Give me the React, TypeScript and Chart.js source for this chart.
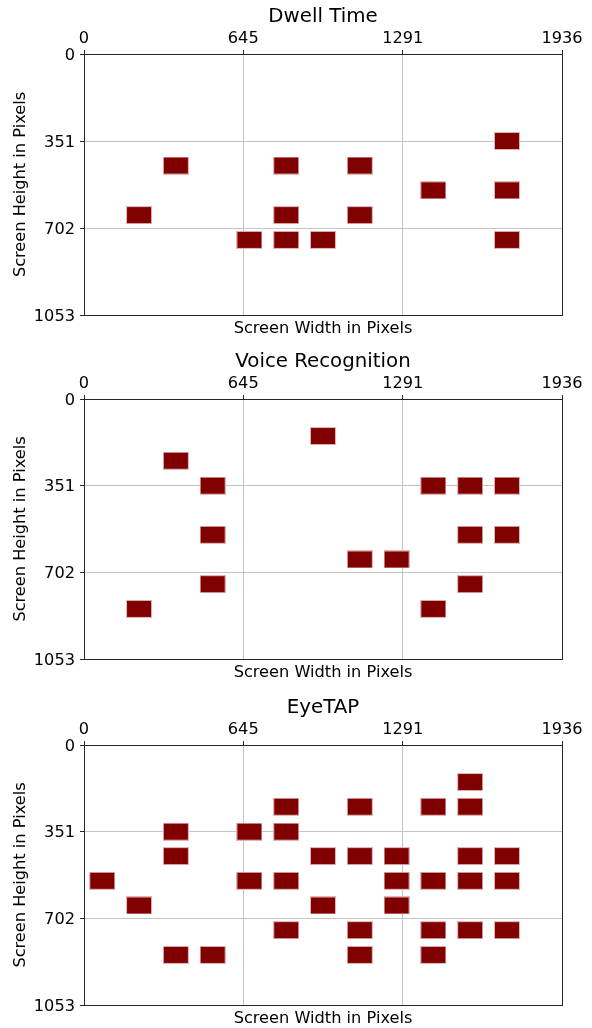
import React, { useEffect, useRef } from "react";
import { Chart, registerables } from "chart.js";

Chart.register(...registerables);

// ---- data ----
const xTickValues = [0, 645, 1291, 1936];
const yTickValues = [0, 351, 702, 1053];
const panelTitles = ["Dwell Time", "Voice Recognition", "EyeTAP"];
const xAxisLabel = "Screen Width in Pixels";
const yAxisLabel = "Screen Height in Pixels";

const dwellX = [1713, 372, 819, 1117, 1415, 1713, 223, 819, 1117, 670, 819, 968, 1713];
const dwellY = [351, 450, 450, 450, 550, 550, 650, 650, 650, 750, 750, 750, 750];

const voiceX = [968, 372, 521, 1415, 1564, 1713, 521, 1564, 1713, 1117, 1266, 521, 1564, 223, 1415];
const voiceY = [150, 250, 351, 351, 351, 351, 550, 550, 550, 650, 650, 750, 750, 850, 850];

const eyetapX = [1564, 819, 1117, 1415, 1564, 372, 670, 819, 372, 968, 1117, 1266, 1564, 1713, 74, 670, 819, 1266, 1415, 1564, 1713, 223, 968, 1266, 819, 1117, 1415, 1564, 1713, 372, 521, 1117, 1415];
const eyetapY = [150, 250, 250, 250, 250, 351, 351, 351, 450, 450, 450, 450, 450, 450, 550, 550, 550, 550, 550, 550, 550, 650, 650, 650, 750, 750, 750, 750, 750, 850, 850, 850, 850];

const panelSeries = [
  { xs: dwellX, ys: dwellY },
  { xs: voiceX, ys: voiceY },
  { xs: eyetapX, ys: eyetapY },
];

// ---- layout / style ----
const FAMILY = "'DejaVu Sans', sans-serif";
const TICK_SIZE = 16.2;
const TITLE_SIZE = 19.8;
const layouts = [
  { top: 0, h: 345, axisTop: 54, plotH: 261 },
  { top: 345, h: 345, axisTop: 54, plotH: 260 },
  { top: 690, h: 338, axisTop: 55, plotH: 260 },
];

let markerCanvas: HTMLCanvasElement | null = null;
function getMarker() {
  if (markerCanvas) return markerCanvas;
  const c = document.createElement("canvas");
  c.width = 26;
  c.height = 18;
  const g = c.getContext("2d")!;
  g.fillStyle = "#e2b5b5";
  g.fillRect(0, 0, 26, 18);
  g.fillStyle = "#800000";
  g.fillRect(1, 1, 24, 16);
  markerCanvas = c;
  return c;
}

const labelsPlugin = {
  id: "panelLabels",
  afterDraw(chart: any) {
    const { ctx, chartArea: a } = chart;
    const title = chart.options.plugins.panelLabels.title;
    ctx.save();
    const l = Math.round(a.left), r = Math.round(a.right), t = Math.round(a.top), b = Math.round(a.bottom);
    ctx.strokeStyle = "#262626";
    ctx.lineWidth = 1;
    ctx.strokeRect(l + 0.5, t + 0.5, r - l, b - t);
    ctx.fillStyle = "#000";
    ctx.font = `${TITLE_SIZE}px ${FAMILY}`;
    ctx.textAlign = "center";
    ctx.textBaseline = "alphabetic";
    ctx.fillText(title, (a.left + a.right) / 2, a.top - 32);
    ctx.font = `${TICK_SIZE}px ${FAMILY}`;
    ctx.fillText(xAxisLabel, (a.left + a.right) / 2, a.bottom + 18);
    ctx.translate(25, (a.top + a.bottom) / 2);
    ctx.rotate(-Math.PI / 2);
    ctx.fillText(yAxisLabel, 0, 0);
    ctx.restore();
  },
};

function buildConfig(i: number): any {
  const s = panelSeries[i];
  const L = layouts[i];
  const tickFont = { family: FAMILY, size: TICK_SIZE };
  const grid = { color: "#c4c4c4", lineWidth: 1, tickColor: "#262626", tickLength: 4, tickWidth: 1 };
  return {
    type: "scatter",
    data: {
      datasets: [
        {
          data: s.xs.map((x, k) => ({ x, y: s.ys[k] })),
          pointStyle: getMarker(),
          pointRadius: 4,
          pointHoverRadius: 4,
          clip: false,
        },
      ],
    },
    options: {
      responsive: false,
      animation: false,
      events: [],
      devicePixelRatio: 1,
      layout: { padding: { left: 0, top: 0, right: 30, bottom: L.h - L.axisTop - L.plotH } },
      plugins: {
        legend: { display: false },
        tooltip: { enabled: false },
        title: { display: false },
        panelLabels: { title: panelTitles[i] },
      },
      scales: {
        x: {
          type: "linear",
          position: "top",
          min: 0,
          max: 1936,
          afterBuildTicks: (sc: any) => {
            sc.ticks = xTickValues.map((v) => ({ value: v }));
          },
          afterFit: (sc: any) => {
            sc.height = L.axisTop;
          },
          ticks: { callback: (v: any) => String(v), color: "#000", font: tickFont, padding: 1, autoSkip: false, maxRotation: 0 },
          grid,
          border: { display: false },
        },
        y: {
          type: "linear",
          position: "left",
          reverse: true,
          min: 0,
          max: 1053,
          afterBuildTicks: (sc: any) => {
            sc.ticks = yTickValues.map((v) => ({ value: v }));
          },
          afterFit: (sc: any) => {
            sc.width = 84;
          },
          ticks: { callback: (v: any) => String(v), color: "#000", font: tickFont, padding: 5, autoSkip: false, labelOffset: 1.5 },
          grid,
          border: { display: false },
        },
      },
    },
    plugins: [labelsPlugin],
  };
}

function Panel({ index }: { index: number }) {
  const ref = useRef<HTMLCanvasElement>(null);
  const L = layouts[index];
  useEffect(() => {
    const chart = new Chart(ref.current as HTMLCanvasElement, buildConfig(index));
    return () => chart.destroy();
  }, [index]);
  return (
    <canvas
      ref={ref}
      width={592}
      height={L.h}
      style={{ position: "absolute", left: 0, top: L.top, width: 592, height: L.h, display: "block" }}
    />
  );
}

export default function App() {
  return (
    <div style={{ position: "absolute", left: 0, top: 0, width: 592, height: 1028, overflow: "hidden", background: "#fff" }}>
      {panelTitles.map((_, i) => (
        <Panel key={i} index={i} />
      ))}
    </div>
  );
}
